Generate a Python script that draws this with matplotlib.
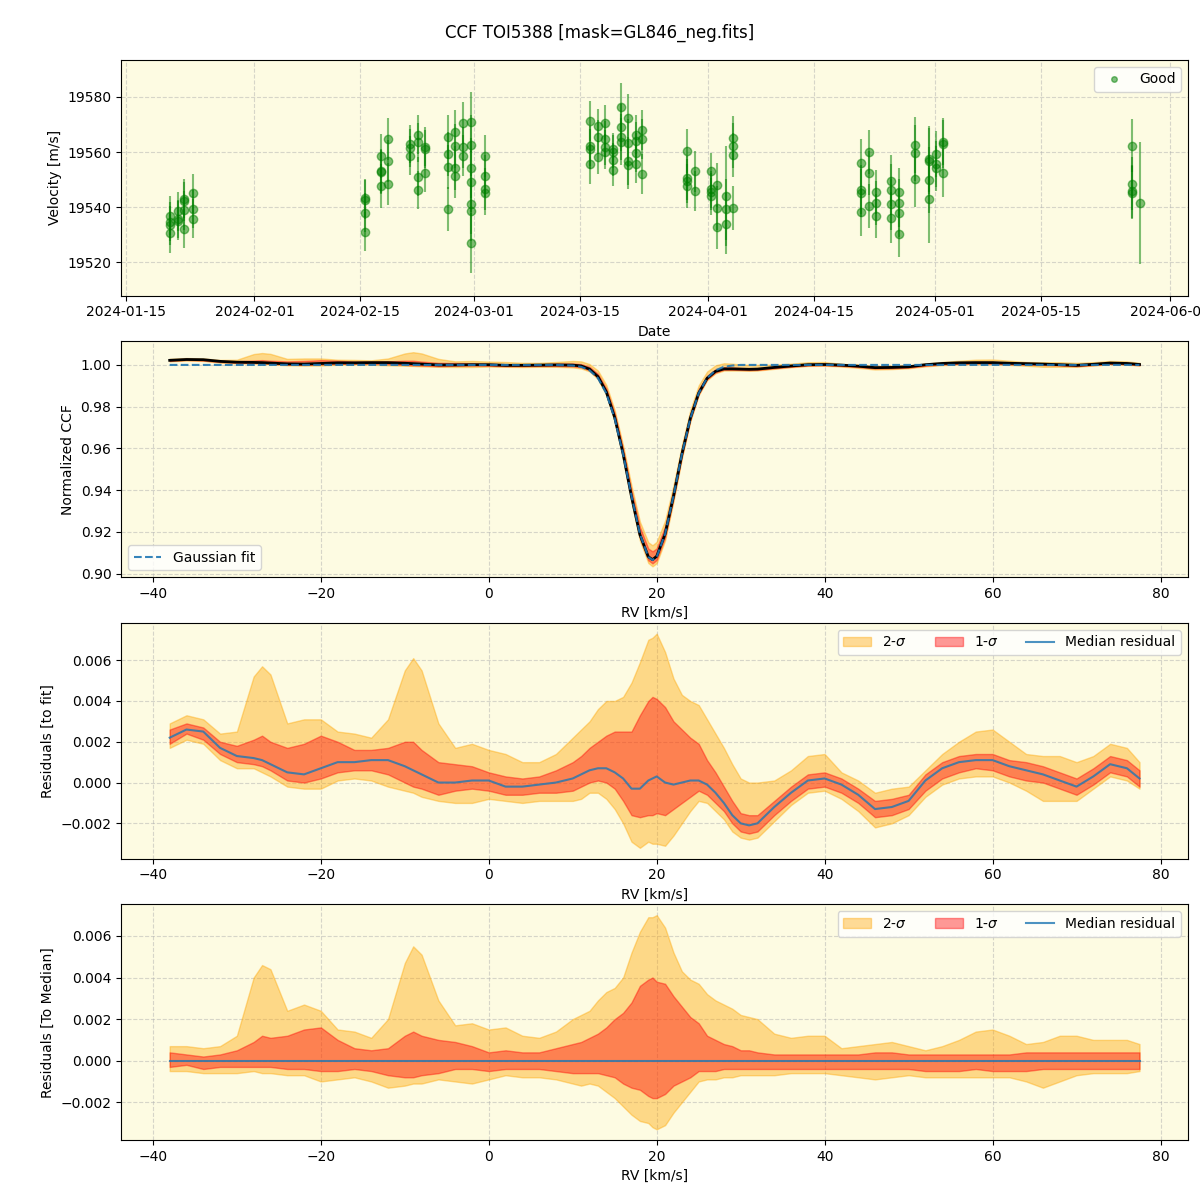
import numpy as np
import pandas as pd
import matplotlib
matplotlib.use('Agg')
import matplotlib.pyplot as plt
from matplotlib.lines import Line2D

# RV time series, one entry per night
nights = ['2024-01-20 19:00', '2024-01-21 22:00', '2024-01-22 17:00', '2024-01-23 20:00',
          '2024-02-15 14:00', '2024-02-17 17:00', '2024-02-18 16:00', '2024-02-21 12:00',
          '2024-02-22 14:00', '2024-02-23 12:00', '2024-02-26 14:00', '2024-02-27 12:00',
          '2024-02-28 14:00', '2024-02-29 14:00', '2024-03-02 12:00', '2024-03-16 10:00',
          '2024-03-17 10:00', '2024-03-18 07:00', '2024-03-19 10:00', '2024-03-20 10:00',
          '2024-03-21 10:00', '2024-03-22 10:00', '2024-03-23 07:00', '2024-03-29 05:00',
          '2024-03-30 07:00', '2024-04-01 07:00', '2024-04-02 05:00', '2024-04-03 07:00',
          '2024-04-04 07:00', '2024-04-21 05:00', '2024-04-22 05:00', '2024-04-23 05:00',
          '2024-04-25 05:00', '2024-04-26 05:00', '2024-04-28 07:00', '2024-04-30 05:00',
          '2024-05-01 02:00', '2024-05-02 02:00', '2024-05-27 00:00', '2024-05-28 00:00']
vel = [
    [19537.0, 19534.8, 19533.4, 19530.5],
    [19538.5, 19535.8, 19535.2],
    [19543.1, 19542.2, 19538.9, 19532.2],
    [19545.1, 19539.4, 19535.9],
    [19543.4, 19542.8, 19538.0, 19531.2],
    [19558.7, 19553.3, 19552.8, 19547.7],
    [19564.8, 19556.8, 19548.4],
    [19563.0, 19561.5, 19558.7],
    [19566.3, 19563.6, 19551.1, 19546.3],
    [19562.0, 19561.2, 19552.4],
    [19565.4, 19559.3, 19554.7, 19539.4],
    [19567.4, 19562.2, 19554.2, 19551.4],
    [19570.5, 19561.7, 19558.7],
    [19570.9, 19562.5, 19554.3, 19549.3, 19541.3, 19538.8, 19527.1],
    [19558.6, 19551.4, 19546.6, 19545.0],
    [19571.4, 19562.3, 19561.2, 19555.7],
    [19569.6, 19565.5, 19558.1],
    [19570.7, 19564.8, 19561.7, 19560.2],
    [19561.0, 19560.1, 19557.3, 19553.7],
    [19576.4, 19569.0, 19565.5, 19563.8],
    [19572.3, 19563.3, 19556.9, 19555.2],
    [19566.3, 19564.1, 19559.8, 19555.7],
    [19568.1, 19564.7, 19552.1],
    [19560.5, 19550.6, 19549.4, 19547.7],
    [19553.0, 19546.0],
    [19553.1, 19546.6, 19545.6, 19544.0],
    [19548.2, 19539.8, 19532.7],
    [19544.1, 19539.2, 19534.1],
    [19565.2, 19562.4, 19558.9, 19539.8],
    [19556.0, 19546.4, 19545.2, 19538.3],
    [19559.9, 19552.4, 19540.4],
    [19545.6, 19541.6, 19536.7],
    [19549.6, 19546.4, 19541.1, 19536.2],
    [19545.6, 19541.6, 19538.0, 19530.4],
    [19562.7, 19559.7, 19550.3],
    [19557.5, 19556.9, 19550.0, 19543.0],
    [19559.4, 19555.8, 19554.1],
    [19563.8, 19562.9, 19552.4],
    [19562.3, 19548.6, 19545.8, 19545.2],
    [19541.6],
]
err = [7, 7, 7, 7, 7, 8, 7.5, 7, 7, 7, 8, 8, 7.5, 11, 7.7, 7.3, 6, 6.4, 6, 8.5,
       8.7, 7, 7.2, 8, 7.3, 6.7, 8, [18, 11, 11], 8, 8.8, 8, 8, 9.3, 8.6, 10.2,
       [12, 12, 12, 16], 8.3, 8.6, 9.6, 22]

# CCF: velocity grid, Gaussian fit, median residual to the fit
rv = [-38, -36, -34, -32, -30, -28, -27, -26, -24, -22, -20, -18, -16, -14, -12, -10, -9, -8,
      -6, -4, -2, 0, 2, 4, 6, 8, 10, 11, 12, 13, 14, 15, 16, 17, 18, 19, 19.5, 20, 21, 22,
      23, 24, 25, 26, 27, 28, 29, 30, 31, 32, 34, 36, 38, 40, 42, 44, 46, 48, 50, 52, 54,
      56, 58, 60, 62, 64, 66, 68, 70, 72, 74, 76, 77.5]
fit = [1.0] * 26 + [0.9997, 0.9991, 0.9974, 0.9937, 0.9864, 0.9743, 0.9572, 0.9372, 0.9190,
                    0.9080, 0.9065, 0.9080, 0.9190, 0.9372, 0.9572, 0.9743, 0.9864, 0.9937,
                    0.9974, 0.9991, 0.9997] + [1.0] * 26
res_med = [0.0022, 0.0026, 0.0025, 0.0017, 0.0013, 0.0012, 0.0011, 0.0009, 0.0005, 0.0004,
           0.0007, 0.0010, 0.0010, 0.0011, 0.0011, 0.0008, 0.0006, 0.0004, 0.0000, 0.0000,
           0.0001, 0.0001, -0.0002, -0.0002, -0.0001, 0.0000, 0.0002, 0.0004, 0.0006, 0.0007,
           0.0007, 0.0005, 0.0002, -0.0003, -0.0003, 0.0001, 0.0002, 0.0003, 0.0000, -0.0001,
           0.0000, 0.0001, 0.0001, -0.0001, -0.0005, -0.0010, -0.0016, -0.0020, -0.0021,
           -0.0020, -0.0012, -0.0005, 0.0001, 0.0002, -0.0001, -0.0006, -0.0013, -0.0012,
           -0.0009, 0.0001, 0.0007, 0.0010, 0.0011, 0.0011, 0.0008, 0.0006, 0.0004, 0.0001,
           -0.0002, 0.0003, 0.0009, 0.0007, 0.0002]

# percentile bands relative to the median CCF (bottom panel)
dev_hi2 = [0.0007, 0.0007, 0.0006, 0.0007, 0.0012, 0.0040, 0.0046, 0.0044, 0.0024, 0.0027,
           0.0024, 0.0015, 0.0014, 0.0011, 0.0020, 0.0047, 0.0055, 0.0051, 0.0029, 0.0017,
           0.0018, 0.0015, 0.0016, 0.0012, 0.0011, 0.0014, 0.0020, 0.0022, 0.0024, 0.0029,
           0.0033, 0.0035, 0.0040, 0.0052, 0.0062, 0.0069, 0.0069, 0.0070, 0.0064, 0.0052,
           0.0043, 0.0039, 0.0037, 0.0032, 0.0029, 0.0027, 0.0025, 0.0022, 0.0021, 0.0020,
           0.0013, 0.0011, 0.0012, 0.0012, 0.0006, 0.0007, 0.0008, 0.0009, 0.0007, 0.0005,
           0.0007, 0.0010, 0.0014, 0.0015, 0.0012, 0.0008, 0.0009, 0.0012, 0.0012, 0.0010,
           0.0010, 0.0010, 0.0008]
dev_hi1 = [0.0004, 0.0003, 0.0002, 0.0003, 0.0005, 0.0009, 0.0012, 0.0011, 0.0012, 0.0015,
           0.0016, 0.0010, 0.0006, 0.0005, 0.0006, 0.0012, 0.0014, 0.0012, 0.0010, 0.0009,
           0.0007, 0.0004, 0.0005, 0.0004, 0.0004, 0.0006, 0.0008, 0.0009, 0.0011, 0.0013,
           0.0016, 0.0020, 0.0023, 0.0028, 0.0036, 0.0039, 0.0040, 0.0038, 0.0037, 0.0031,
           0.0026, 0.0021, 0.0018, 0.0012, 0.0010, 0.0008, 0.0007, 0.0005, 0.0005, 0.0004,
           0.0003, 0.0003, 0.0003, 0.0003, 0.0003, 0.0003, 0.0004, 0.0004, 0.0003, 0.0003,
           0.0003, 0.0003, 0.0003, 0.0003, 0.0003, 0.0004, 0.0004, 0.0004, 0.0004, 0.0004,
           0.0004, 0.0004, 0.0004]
dev_lo1 = [-0.0003, -0.0002, -0.0004, -0.0003, -0.0003, -0.0003, -0.0003, -0.0003, -0.0004,
           -0.0004, -0.0005, -0.0005, -0.0004, -0.0005, -0.0007, -0.0008, -0.0008, -0.0007,
           -0.0006, -0.0004, -0.0004, -0.0005, -0.0004, -0.0004, -0.0004, -0.0005, -0.0006,
           -0.0006, -0.0006, -0.0006, -0.0007, -0.0008, -0.0011, -0.0013, -0.0014, -0.0017,
           -0.0018, -0.0018, -0.0016, -0.0012, -0.0010, -0.0008, -0.0005, -0.0005, -0.0005,
           -0.0004, -0.0004, -0.0004, -0.0004, -0.0004, -0.0004, -0.0004, -0.0004, -0.0004,
           -0.0004, -0.0004, -0.0004, -0.0004, -0.0004, -0.0005, -0.0005, -0.0005, -0.0004,
           -0.0005, -0.0005, -0.0005, -0.0004, -0.0004, -0.0004, -0.0004, -0.0004, -0.0004,
           -0.0004]
dev_lo2 = [-0.0005, -0.0005, -0.0006, -0.0006, -0.0006, -0.0005, -0.0006, -0.0006, -0.0007,
           -0.0007, -0.0010, -0.0009, -0.0008, -0.0010, -0.0013, -0.0012, -0.0011, -0.0011,
           -0.0009, -0.0010, -0.0011, -0.0009, -0.0007, -0.0008, -0.0008, -0.0009, -0.0011,
           -0.0012, -0.0011, -0.0012, -0.0015, -0.0018, -0.0022, -0.0026, -0.0029, -0.0030,
           -0.0032, -0.0033, -0.0031, -0.0025, -0.0020, -0.0015, -0.0010, -0.0009, -0.0009,
           -0.0008, -0.0008, -0.0007, -0.0007, -0.0007, -0.0007, -0.0006, -0.0006, -0.0006,
           -0.0007, -0.0008, -0.0009, -0.0008, -0.0007, -0.0008, -0.0008, -0.0008, -0.0008,
           -0.0008, -0.0008, -0.0010, -0.0013, -0.0010, -0.0007, -0.0006, -0.0006, -0.0006,
           -0.0005]

# flatten the time series
t, v, e = [], [], []
for night, vs, es in zip(nights, vel, err):
    t += [pd.Timestamp(night)] * len(vs)
    v += vs
    e += list(np.broadcast_to(es, len(vs)))

rv = np.array(rv)
fit = np.array(fit)
med = np.array(res_med)
d_hi2, d_hi1 = np.array(dev_hi2), np.array(dev_hi1)
d_lo1, d_lo2 = np.array(dev_lo1), np.array(dev_lo2)
# residuals to the fit = median residual + spread around the median
hi2, hi1, lo1, lo2 = med + d_hi2, med + d_hi1, med + d_lo1, med + d_lo2

bg = '#fdfbe2'
fig, axes = plt.subplots(4, 1, figsize=(12, 12))
fig.subplots_adjust(left=0.101, right=0.99, top=0.95, bottom=0.05, hspace=0.195)
fig.suptitle('CCF TOI5388 [mask=GL846_neg.fits]', fontsize=12)
for ax in axes:
    ax.set_facecolor(bg)
    ax.grid(True, linestyle='--', alpha=0.5)
    ax.set_axisbelow(True)

# panel 1: RV time series
ax = axes[0]
ax.errorbar(t, v, yerr=e, fmt='o', color='green', alpha=0.5, ms=6, elinewidth=1.5)
good = Line2D([], [], marker='o', ls='', color='green', alpha=0.5, ms=4, label='Good')
ax.legend(handles=[good], loc='upper right')
ax.set_ylim(19508, 19593.4)
ax.set_xlabel('Date')
ax.set_ylabel('Velocity [m/s]')

# panel 2: median CCF with percentile bands
ax = axes[1]
ax.fill_between(rv, fit + lo2, fit + hi2, color='orange', alpha=0.4)
ax.fill_between(rv, fit + lo1, fit + hi1, color='red', alpha=0.4)
ax.plot(rv, fit + med, color='black', lw=2)
ax.plot(rv, fit, '--', color='C0', lw=1.5, alpha=0.9, label='Gaussian fit')
ax.legend(loc='lower left')
ax.set_xlabel('RV [km/s]')
ax.set_ylabel('Normalized CCF')

# panel 3: residuals to fit
ax = axes[2]
ax.fill_between(rv, lo2, hi2, color='orange', alpha=0.4, label='2-$\\sigma$')
ax.fill_between(rv, lo1, hi1, color='red', alpha=0.4, label='1-$\\sigma$')
ax.plot(rv, med, color='C0', alpha=0.8, lw=1.5, label='Median residual')
ax.legend(loc='upper right', ncol=3)
ax.set_xlabel('RV [km/s]')
ax.set_ylabel('Residuals [to fit]')

# panel 4: residuals to median
ax = axes[3]
ax.fill_between(rv, d_lo2, d_hi2, color='orange', alpha=0.4, label='2-$\\sigma$')
ax.fill_between(rv, d_lo1, d_hi1, color='red', alpha=0.4, label='1-$\\sigma$')
ax.plot(rv, np.zeros_like(rv, dtype=float), color='C0', alpha=0.8, lw=1.5,
        label='Median residual')
ax.legend(loc='upper right', ncol=3)
ax.set_xlabel('RV [km/s]')
ax.set_ylabel('Residuals [To Median]')

fig.savefig('out.png', dpi=100)
